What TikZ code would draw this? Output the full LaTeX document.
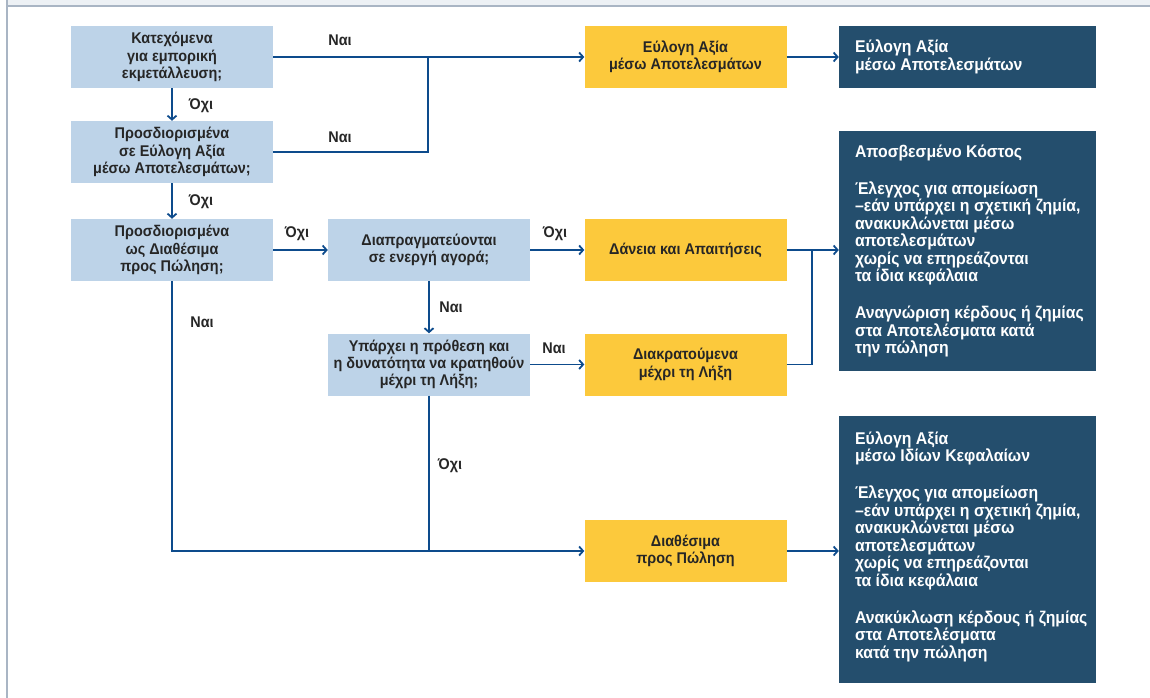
\documentclass[tikz,border=0pt]{standalone}
\usepackage{fontspec}
\setmainfont{Liberation Sans Bold}[FakeStretch=0.93]
\usetikzlibrary{arrows.meta}
\definecolor{qblue}{HTML}{BDD3E8}
\definecolor{ygold}{HTML}{FCC93C}
\definecolor{dnavy}{HTML}{244E6D}
\definecolor{lblue}{HTML}{0D4B8C}
\definecolor{tgrey}{HTML}{262626}
\definecolor{framegrey}{HTML}{A9B5C4}
\definecolor{topbar}{HTML}{EDF1F5}

\begin{document}
\begin{tikzpicture}[x=1pt,y=-1pt,>={Straight Barb[length=4pt,width=9pt]},
    font=\fontsize{15.5}{17.3}\selectfont,
    qbox/.style={fill=qblue,text=tgrey,minimum width=202pt,minimum height=62pt,align=center,inner sep=0pt},
    ybox/.style={qbox,fill=ygold},
    dbox/.style={fill=dnavy,minimum width=257pt,inner sep=0pt},
    dtext/.style={text=white,align=left,inner sep=0pt,anchor=west,font=\fontsize{17}{17.5}\selectfont},
    lbl/.style={text=tgrey},
    arr/.style={->,draw=lblue,line width=1.8pt},
    joinline/.style={draw=lblue,line width=1.3pt}]
      \useasboundingbox (0,0) rectangle (1150,698);
      \fill[topbar] (7,0) rectangle (1150,5);
      \draw[framegrey,line width=1.7pt] (7,5.8) -- (1150,5.8);
      \draw[framegrey,line width=1.7pt] (6.8,0) -- (6.8,698);
      % questions
      \node[qbox] (q1) at (172,57) {Κατεχόμενα\\για εμπορική\\εκμετάλλευση;};
      \node[qbox] (q2) at (172,152) {Προσδιορισμένα\\σε Εύλογη Αξία\\μέσω Αποτελεσμάτων;};
      \node[qbox] (q3) at (172,250) {Προσδιορισμένα\\ως Διαθέσιμα\\προς Πώληση;};
      \node[qbox] (q4) at (429,250) {Διαπραγματεύονται\\σε ενεργή αγορά;};
      \node[qbox] (q5) at (429,364.5) {Υπάρχει η πρόθεση και\\η δυνατότητα να κρατηθούν\\μέχρι τη Λήξη;};
      % categories
      \node[ybox] (y1) at (685.5,57) {Εύλογη Αξία\\μέσω Αποτελεσμάτων};
      \node[ybox] (y2) at (685.5,250) {Δάνεια και Απαιτήσεις};
      \node[ybox] (y3) at (685.5,364.5) {Διακρατούμενα\\μέχρι τη Λήξη};
      \node[ybox] (y4) at (685.5,551) {Διαθέσιμα\\προς Πώληση};
      % treatment
      \node[dbox,minimum height=62pt] (d1) at (967.5,57) {};
      \node[dbox,minimum height=240pt] (d2) at (967.5,251) {};
      \node[dbox,minimum height=267pt] (d3) at (967.5,549.5) {};
      \node[dtext] (t1) at ([xshift=16pt]d1.west) {Εύλογη Αξία\\μέσω Αποτελεσμάτων};
      \node[dtext] (t2) at ([xshift=16pt]d2.west) {Αποσβεσμένο Κόστος\\[19.5pt]
        Έλεγχος για απομείωση\\–εάν υπάρχει η σχετική ζημία,\\ανακυκλώνεται μέσω\\αποτελεσμάτων\\χωρίς να επηρεάζονται\\τα ίδια κεφάλαια\\[19.5pt]
        Αναγνώριση κέρδους ή ζημίας\\στα Αποτελέσματα κατά\\την πώληση};
      \node[dtext] (t3) at ([xshift=16pt,yshift=3pt]d3.west) {Εύλογη Αξία\\μέσω Ιδίων Κεφαλαίων\\[19.5pt]
        Έλεγχος για απομείωση\\–εάν υπάρχει η σχετική ζημία,\\ανακυκλώνεται μέσω\\αποτελεσμάτων\\χωρίς να επηρεάζονται\\τα ίδια κεφάλαια\\[19.5pt]
        Ανακύκλωση κέρδους ή ζημίας\\στα Αποτελέσματα\\κατά την πώληση};
      % connectors
      \coordinate (jt) at (428,57);
      \coordinate (jr) at (812,250);
      \coordinate (jb) at (q5.south |- y4.west);
      \draw[arr] (q1.east) -- (y1.west); % q1 -> y1
      \draw[joinline] (q2.east) -| (jt); % q2 -> y1
      \draw[arr] (q1.south) -- (q2.north); % q1 -> q2
      \draw[arr] (q2.south) -- (q3.north); % q2 -> q3
      \draw[arr] (q3.east) -- (q4.west); % q3 -> q4
      \draw[arr] (q4.east) -- (y2.west); % q4 -> y2
      \draw[arr] (q4.south) -- (q5.north); % q4 -> q5
      \draw[arr] (q5.east) -- (y3.west); % q5 -> y3
      \draw[joinline] (q3.south) |- (jb); % q3 -> y4
      \draw[arr] (q5.south) -- (jb) -- (y4.west); % q5 -> y4
      \draw[arr] (y1.east) -- (d1.west); % y1 -> d1
      \draw[arr] (y2.east) -- (y2.east -| d2.west); % y2 -> d2
      \draw[joinline] (y3.east) -| (jr); % y3 -> d2
      \draw[arr] (y4.east) -- (y4.east -| d3.west); % y4 -> d3
      % labels
      \node[lbl] (n1) at (340,40) {Ναι};
      \node[lbl] (n2) at (340,137) {Ναι};
      \node[lbl] (o1) at (201,106) {Όχι};
      \node[lbl] (o2) at (201,202) {Όχι};
      \node[lbl] (o3) at (297,234) {Όχι};
      \node[lbl] (o4) at (555,234) {Όχι};
      \node[lbl] (n3) at (451,307) {Ναι};
      \node[lbl] (n4) at (554,348) {Ναι};
      \node[lbl] (n5) at (202,322) {Ναι};
      \node[lbl] (o5) at (450,466) {Όχι};
    \end{tikzpicture}
\end{document}
